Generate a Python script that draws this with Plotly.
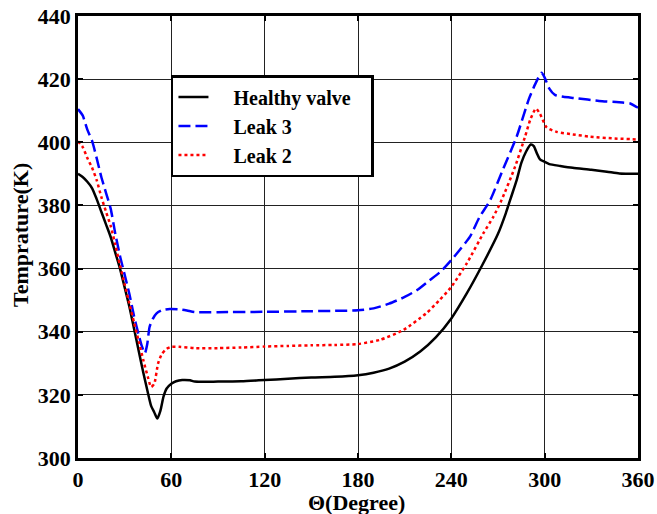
import plotly.graph_objects as go

# Healthy valve (black solid)
healthy_x = [0, 3, 6, 9, 12, 15, 18, 21, 24, 27, 30, 33, 36, 39, 42, 45, 47, 49, 51, 53, 55, 57, 60, 63, 67,
             72, 75, 90, 105, 120, 135, 150, 165, 180, 190, 200, 210, 220, 230, 240, 250, 260, 270, 275, 278,
             282, 285, 288, 291, 293, 295, 297, 300, 303, 310, 318, 330, 340, 348, 360]
healthy_y = [390, 389, 387.5, 385.5, 382, 378, 374, 370, 365, 360, 354, 348, 341, 334, 327, 320.5, 316.5, 314.5,
             312.5, 315, 319.5, 322, 323.5, 324.3, 324.7, 324.6, 324.2, 324.2, 324.3, 324.7, 325.1, 325.5,
             325.7, 326.2, 327, 328.3, 330.5, 333.7, 338.2, 344.2, 352.2, 361.2, 371, 377.5, 382, 388, 393.5,
             397, 399.3, 398.8, 396.5, 394.6, 393.8, 393.1, 392.5, 391.9, 391.3, 390.7, 390.1, 390]

# Leak 3 (blue dashed)
leak3_x = [0, 3, 6, 9, 12, 15, 18, 21, 24, 27, 30, 33, 36, 39, 41, 43, 44.5, 46, 48, 50.5, 54, 59, 65, 70, 75,
           90, 120, 150, 165, 180, 190, 200, 210, 218, 226, 233, 240, 246, 252, 258, 265, 273, 282, 290, 294,
           298, 300, 303, 306.6, 312, 320, 335, 350, 355, 359, 360]
leak3_y = [410.5, 408.5, 404, 400.5, 395, 389, 384, 379, 371, 364, 358, 352, 345, 339, 335.5, 333.2, 336,
           341.5, 344, 345.8, 346.8, 347.2, 347.1, 346.7, 346.2, 346.2, 346.3, 346.5, 346.6, 346.8, 347.4,
           348.9, 351, 353.2, 356.3, 359, 362.7, 366.3, 370.1, 376.2, 381.7, 391.2, 401.8, 413.9, 418.5, 422,
           420.5, 417, 415, 414.4, 414, 413.1, 412.6, 412.3, 411.2, 411]

# Leak 2 (red dotted)
leak2_x = [0, 3, 6, 9, 12, 15, 18, 21, 24, 27, 30, 33, 36, 39, 42, 45, 47, 49, 51.5, 54, 57, 60, 65, 75, 90,
           105, 120, 135, 150, 165, 180, 194, 209, 224, 232, 240, 250, 260.6, 267, 272.3, 281, 287.4, 291,
           294.4, 297, 301.3, 307.7, 318, 329, 345, 359, 360]
leak2_y = [400.3, 398.5, 395, 392, 388, 382.7, 378, 373.5, 367.5, 361, 355, 349, 343, 337, 331, 325.5, 322.5,
           323.5, 330, 333, 334.6, 335.2, 335.2, 334.8, 334.8, 335, 335.3, 335.5, 335.7, 335.8, 336.1, 337.4,
           340.5, 345.9, 349.8, 354.2, 361.7, 371.2, 376.4, 381.7, 392.3, 401.8, 407.5, 410.7, 409, 404.7,
           403.3, 402.5, 401.8, 401.2, 400.9, 400.8]

x_ticks = [0, 60, 120, 180, 240, 300, 360]
y_ticks = [300, 320, 340, 360, 380, 400, 420, 440]
series_names = ["Healthy valve", "Leak 3", "Leak 2"]

FONT = "Liberation Serif"
SZ = 22
LEAD = "&nbsp;" * 4


def legend_label(name, trail=0):
    return LEAD + f"<b>{name}</b>" + "&nbsp;" * trail


fig = go.Figure()
fig.add_trace(go.Scatter(x=healthy_x, y=healthy_y, mode="lines", name=legend_label(series_names[0], 3),
                         line=dict(color="black", width=2.5, shape="spline", smoothing=0.6)))
fig.add_trace(go.Scatter(x=leak3_x, y=leak3_y, mode="lines", name=legend_label(series_names[1]),
                         line=dict(color="#0000ff", width=2.5, dash="12px,5px", shape="spline", smoothing=0.6)))
fig.add_trace(go.Scatter(x=leak2_x, y=leak2_y, mode="lines", name=legend_label(series_names[2]),
                         line=dict(color="#ff0000", width=2.5, dash="dot", shape="spline", smoothing=0.6)))

axis_common = dict(showline=True, linecolor="black", linewidth=2.5, mirror="ticks",
                   showgrid=True, gridcolor="#222222", gridwidth=1, zeroline=False,
                   ticks="inside", ticklen=5, tickwidth=1.5, tickcolor="black", automargin=False,
                   ticklabeloverflow="allow",
                   tickfont=dict(family=FONT, size=SZ, color="black"))

fig.update_xaxes(range=[0, 360], tickvals=x_ticks, ticktext=[f"<b>{v}</b>" for v in x_ticks], **axis_common)
fig.update_yaxes(range=[300, 440], tickvals=y_ticks, ticktext=[f"<b>{v}</b>" for v in y_ticks], **axis_common)

fig.add_annotation(text="<b>Θ(Degree)</b>", xref="paper", yref="paper", x=0.498, y=-0.1,
                   xanchor="center", yanchor="middle", showarrow=False,
                   font=dict(family=FONT, size=SZ, color="black"))
fig.add_annotation(text="<b>Temprature(K)</b>", xref="paper", yref="paper", x=-0.1036, y=0.5045,
                   xanchor="center", yanchor="middle", showarrow=False, textangle=-90,
                   font=dict(family=FONT, size=SZ, color="#000000"))

fig.update_layout(
    width=657, height=514,
    margin=dict(l=78, r=19, t=16, b=56),
    paper_bgcolor="white", plot_bgcolor="white",
    showlegend=True,
    legend=dict(x=0.166, y=0.8665, xanchor="left", yanchor="top",
                bgcolor="white", bordercolor="black", borderwidth=2.5,
                font=dict(family=FONT, size=20, color="black"),
                tracegroupgap=0),
)

fig.write_html("out.html", config={"displayModeBar": False},
               post_script="document.body.style.margin='0';document.body.style.overflow='hidden';")
